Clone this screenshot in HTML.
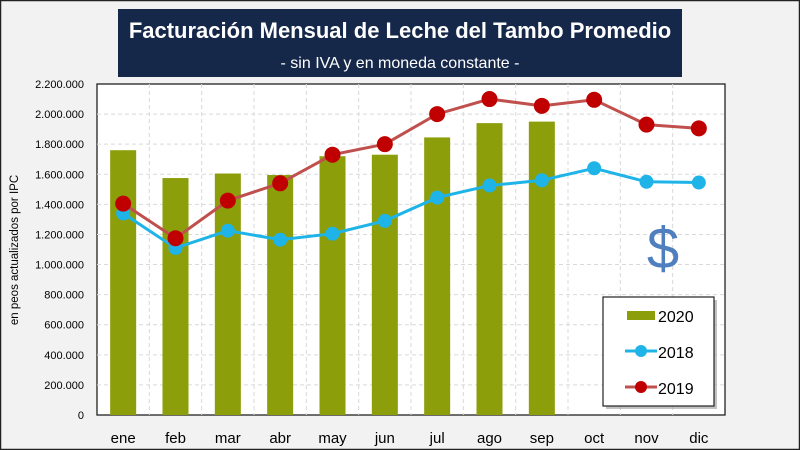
<!DOCTYPE html>
<html><head><meta charset="utf-8"><style>
html,body{margin:0;padding:0;background:#fff}
#wrap{position:relative;width:800px;height:450px;overflow:hidden;font-family:"Liberation Sans",sans-serif}
</style></head><body>
<div id="wrap">
<svg id="chart" width="800" height="450" xmlns="http://www.w3.org/2000/svg"></svg>
</div>
<script>
const months=["ene","feb","mar","abr","may","jun","jul","ago","sep","oct","nov","dic"];
const values2020=[1760000,1575000,1605000,1595000,1720000,1730000,1845000,1940000,1950000];
const values2018=[1340000,1110000,1225000,1165000,1205000,1290000,1445000,1525000,1560000,1640000,1550000,1545000];
const values2019=[1405000,1175000,1425000,1540000,1730000,1800000,2000000,2100000,2055000,2095000,1930000,1905000];
const yTicks=[0,200000,400000,600000,800000,1000000,1200000,1400000,1600000,1800000,2000000,2200000];
const yTickLabels=["0","200.000","400.000","600.000","800.000","1.000.000","1.200.000","1.400.000","1.600.000","1.800.000","2.000.000","2.200.000"];

const NS="http://www.w3.org/2000/svg";
const svg=document.getElementById('chart');
const L=97,R=725,T=84,B=415,yMax=2200000;
const bw=(R-L)/months.length;
const x=i=>L+bw*(i+0.5);
const y=v=>B-(v/yMax)*(B-T);
function mk(tag,attrs,parent){const e=document.createElementNS(NS,tag);for(const k in attrs)e.setAttribute(k,attrs[k]);(parent||svg).appendChild(e);return e;}

let e;
e=mk('rect',{x:0.5,y:0.5,width:799,height:449,fill:'#f2f2f2',stroke:'#222','stroke-width':1.5});


e=mk('rect',{x:L,y:T,width:R-L,height:B-T,fill:'#fff',stroke:'#111','stroke-width':1.2});



// grid
yTicks.forEach((v,i)=>{
 if(i>0&&i<yTicks.length-1){
  e=mk('line',{x1:L,x2:R,y1:y(v),y2:y(v),stroke:'#d9d9d9','stroke-dasharray':'4,3'});
  
  
 }
 e=mk('text',{x:84,y:y(v)+4,'text-anchor':'end','font-size':11,fill:'#000'});
 e.textContent=yTickLabels[i];
 
 
});
for(let i=1;i<months.length;i++){
 e=mk('line',{x1:L+bw*i,x2:L+bw*i,y1:T,y2:B,stroke:'#d9d9d9','stroke-dasharray':'4,3'});
 
 
}
months.forEach((m,i)=>{
 e=mk('text',{x:x(i),y:443,'text-anchor':'middle','font-size':15,fill:'#000'});
 e.textContent=m;
 
 
});

// bars
values2020.forEach((v,i)=>{
 e=mk('rect',{x:x(i)-13,y:y(v),width:26,height:B-y(v),fill:'#8c9e0a'});
 
 
});
function series(vals,line,dot,r,name){
 e=mk('polyline',{points:vals.map((v,i)=>x(i)+','+y(v)).join(' '),fill:'none',stroke:line,'stroke-width':3});
 
 
 vals.forEach((v,i)=>{
  e=mk('circle',{cx:x(i),cy:y(v),r:r,fill:dot});
  
  
 });
}
series(values2018,'#1fb4e8','#1fb4e8',7,'series-2018');
series(values2019,'#c0504d','#c00000',8,'series-2019');

// y title
e=mk('text',{x:0,y:0,transform:'translate(18,250) rotate(-90)','text-anchor':'middle','font-size':11.5,fill:'#000'});
e.textContent='en peos actualizados por IPC';



// dollar
e=mk('text',{x:663,y:268,'text-anchor':'middle','font-size':58,fill:'#4f7fbf'});
e.textContent='$';



// legend
e=mk('rect',{x:606,y:300,width:111,height:109,fill:'#999',opacity:0.6});


e=mk('rect',{x:603,y:297,width:111,height:109,fill:'#fff',stroke:'#222','stroke-width':1.2});


e=mk('rect',{x:627,y:311,width:28,height:9,fill:'#8c9e0a'});


e=mk('line',{x1:625,x2:657,y1:351,y2:351,stroke:'#1fb4e8','stroke-width':3});


e=mk('circle',{cx:641,cy:351,r:6,fill:'#1fb4e8'});


e=mk('line',{x1:625,x2:657,y1:387,y2:387,stroke:'#c0504d','stroke-width':3});


e=mk('circle',{cx:641,cy:387,r:6,fill:'#c00000'});


[["2020",322],["2018",358],["2019",394]].forEach(([t,yy])=>{
 e=mk('text',{x:658,y:yy,'font-size':16,fill:'#000'});
 e.textContent=t;
 
 
});

// title box
e=mk('rect',{x:118,y:9,width:564,height:68,fill:'#16284a'});


e=mk('text',{x:400,y:38,'text-anchor':'middle','font-size':22,'font-weight':'bold',fill:'#fff'});
e.textContent='Facturación Mensual de Leche del Tambo Promedio';


e=mk('text',{x:400,y:68,'text-anchor':'middle','font-size':16,fill:'#fff'});
e.textContent='- sin IVA y en moneda constante -';


</script>
</body></html>
